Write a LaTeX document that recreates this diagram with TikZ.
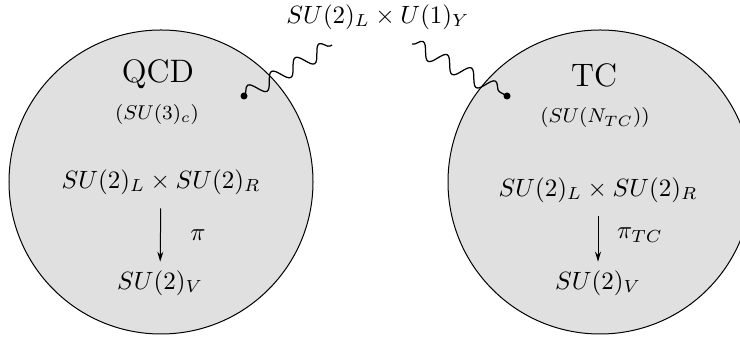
\documentclass[tikz,border=0pt]{standalone}
\usepackage{amsmath,amssymb}
\usetikzlibrary{arrows.meta,decorations.pathmorphing}

\begin{document}
\begin{tikzpicture}[
    x=0.4pt, y=-0.4pt,
    blob/.style={circle, draw, fill=black!12, minimum size=121.6pt, inner sep=0pt},
    dot/.style={circle, fill=black, inner sep=0pt, minimum size=2.8pt},
    gauge/.style={decorate, line width=0.5pt, decoration={snake, amplitude=3pt, segment length=11pt}},
    map/.style={-{Stealth[length=4pt,width=2.4pt]}, shorten <=2pt},
    title/.style={font=\fontsize{13}{15}\selectfont}
]

\useasboundingbox (0,0) rectangle (740,338);

\node[blob] (qcd) at (161,182) {};
\node[blob] (tc) at (600,182) {};

\node (ew) at (378,17) {$SU(2)_L\times U(1)_Y$};

\node[title] (qcdname) at (158,74) {QCD};
\node[font=\footnotesize] (qcdgroup) at (157,115) {$(SU(3)_c)$};
\node (qcdlr) at (161,182) {$SU(2)_L\times SU(2)_R$};
\node (qcdv) at (160,283) {$SU(2)_V$};
\node (qcdpi) at (198,235) {$\pi$};

\node[title] (tcname) at (594,75) {TC};
\node[font=\footnotesize] (tcgroup) at (595,118) {$(SU(N_{TC}))$};
\node (tclr) at (598,190) {$SU(2)_L\times SU(2)_R$};
\node (tcv) at (598,283) {$SU(2)_V$};
\node (tcpi) at (640,235) {$\pi_{TC}$};

\draw[map] (qcdlr) -- (qcdv);
\draw[map] (tclr.south -| tcv) -- (tcv);

\node[dot] (qcddot) at (244,96) {};
\node[dot] (tcdot) at (507,96) {};
\coordinate (wl) at (332,45);
\coordinate (wr) at (412,44);

\draw[gauge] (qcddot.center) -- (wl);
\draw[gauge] (wr) -- (tcdot.center);

\end{tikzpicture}
\end{document}
